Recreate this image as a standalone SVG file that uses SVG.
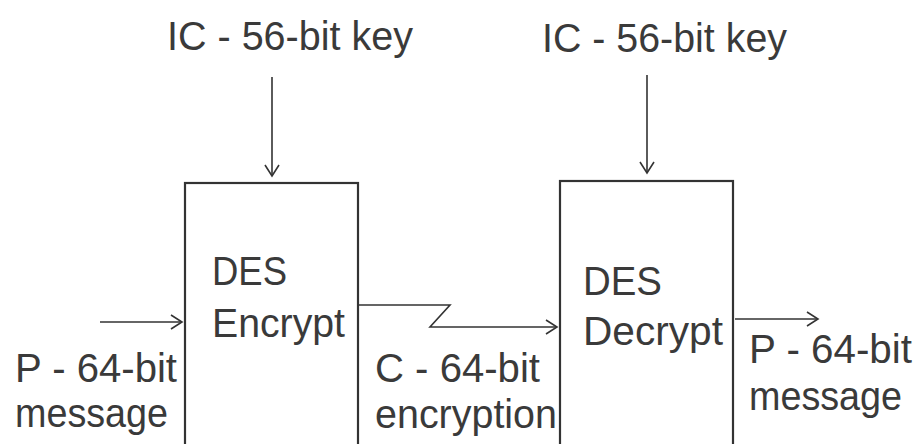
<svg xmlns="http://www.w3.org/2000/svg" width="917" height="444" viewBox="0 0 917 444">
  <style>
    .box { fill: #ffffff; stroke: #333333; stroke-width: 2.2; }
    .wire { fill: none; stroke: #333333; stroke-width: 1.6; }
    text { font-family: "Liberation Sans", Arial, sans-serif; font-size: 41px; fill: #3a3a3a; }
  </style>
  <defs>
    <marker id="head" markerUnits="userSpaceOnUse" markerWidth="14" markerHeight="16" viewBox="0 0 14 16" refX="12" refY="8" orient="auto">
      <path d="M1,1 L12,8 L1,15" fill="none" stroke="#333333" stroke-width="1.6"/>
    </marker>
  </defs>
  <rect width="917" height="444" fill="#ffffff"/>

  <!-- Encrypt stage -->
  <g id="key-encrypt">
    <text x="167" y="50" textLength="246" lengthAdjust="spacingAndGlyphs">IC - 56-bit key</text>
  </g>
  <g id="des-encrypt">
    <rect class="box" x="185" y="183" width="173" height="290"/>
    <text x="212" y="285" textLength="75" lengthAdjust="spacingAndGlyphs">DES</text>
    <text x="212" y="337" textLength="133" lengthAdjust="spacingAndGlyphs">Encrypt</text>
  </g>
  <g id="plain-in">
    <text x="15" y="382" textLength="162" lengthAdjust="spacingAndGlyphs">P - 64-bit</text>
    <text x="15" y="427" textLength="153" lengthAdjust="spacingAndGlyphs">message</text>
  </g>
  <g id="cipher">
    <text x="375" y="382" textLength="165" lengthAdjust="spacingAndGlyphs">C - 64-bit</text>
    <text x="375" y="428" textLength="182" lengthAdjust="spacingAndGlyphs">encryption</text>
  </g>

  <!-- Decrypt stage -->
  <g id="key-decrypt">
    <text x="542" y="52" textLength="245" lengthAdjust="spacingAndGlyphs">IC - 56-bit key</text>
  </g>
  <g id="des-decrypt">
    <rect class="box" x="560" y="181" width="173" height="290"/>
    <text x="583" y="295" textLength="79" lengthAdjust="spacingAndGlyphs">DES</text>
    <text x="583" y="345" textLength="140" lengthAdjust="spacingAndGlyphs">Decrypt</text>
  </g>
  <g id="plain-out">
    <text x="749" y="363" textLength="163" lengthAdjust="spacingAndGlyphs">P - 64-bit</text>
    <text x="749" y="410" textLength="153" lengthAdjust="spacingAndGlyphs">message</text>
  </g>

  <!-- Connectors -->
  <g id="connectors">
    <path class="wire" d="M272,77 L272,176" marker-end="url(#head)"/>
    <path class="wire" d="M647,75 L647,173" marker-end="url(#head)"/>
    <path class="wire" d="M100,322 L182,322" marker-end="url(#head)"/>
    <path class="wire" d="M359,305 L450,305 L430,327 L557,327" marker-end="url(#head)"/>
    <path class="wire" d="M735,319 L818,319" marker-end="url(#head)"/>
  </g>
</svg>
